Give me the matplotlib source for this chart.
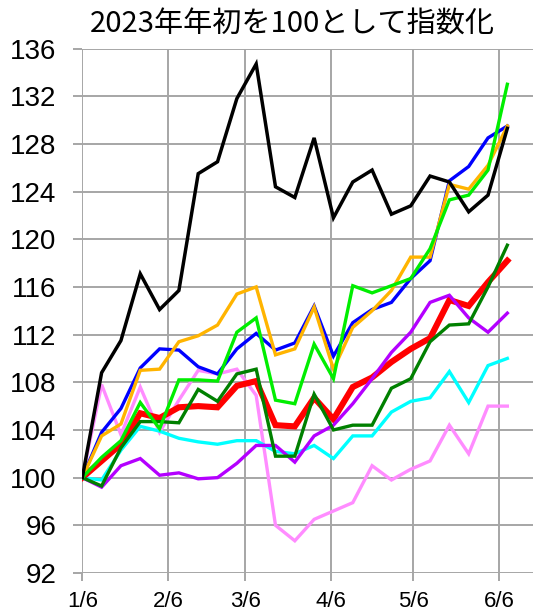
"""Weekly index chart (2023 start = 100), ten series, Jan 6 - Jun 9 2023."""

import matplotlib
matplotlib.use("Agg")
import matplotlib.pyplot as plt
import pandas as pd

TITLE = "2023年年初を100として指数化"

DATES = ["2023-01-06", "2023-01-13", "2023-01-20", "2023-01-27", "2023-02-03",
         "2023-02-10", "2023-02-17", "2023-02-24", "2023-03-03", "2023-03-10",
         "2023-03-17", "2023-03-24", "2023-03-31", "2023-04-07", "2023-04-14",
         "2023-04-21", "2023-04-28", "2023-05-05", "2023-05-12", "2023-05-19",
         "2023-05-26", "2023-06-02", "2023-06-09"]

BLACK = [100.0, 108.8, 111.5, 117.1, 114.1, 115.7, 125.5, 126.5, 131.8, 134.7,
         124.4, 123.5, 128.5, 121.8, 124.8, 125.8, 122.1, 122.8, 125.3, 124.8,
         122.3, 123.7, 129.3]
BLUE = [100.0, 103.8, 105.8, 109.2, 110.8, 110.7, 109.3, 108.7, 110.8, 112.1,
        110.7, 111.3, 114.4, 110.2, 113.0, 114.1, 114.7, 116.7, 118.2, 124.9,
        126.1, 128.5, 129.5]
ORANGE = [100.0, 103.5, 104.5, 109.0, 109.1, 111.4, 111.9, 112.8, 115.4, 116.0,
          110.3, 110.8, 114.3, 109.1, 112.6, 114.0, 115.7, 118.5, 118.5, 124.6,
          124.2, 126.2, 129.5]
LIME = [100.0, 101.7, 103.1, 106.3, 104.1, 108.2, 108.2, 108.1, 112.2, 113.4,
        106.5, 106.2, 111.2, 108.3, 116.1, 115.5, 116.1, 116.7, 119.2, 123.3,
        123.7, 125.8, 133.0]
RED = [100.0, 101.4, 102.8, 105.4, 105.0, 105.9, 106.0, 105.9, 107.7, 108.1,
       104.4, 104.3, 106.7, 104.9, 107.6, 108.4, 109.7, 110.8, 111.7, 114.9,
       114.4, 116.4, 118.2]
DARKGREEN = [100.0, 99.3, 102.5, 104.7, 104.7, 104.6, 107.4, 106.4, 108.7, 109.1,
             101.8, 101.8, 107.0, 104.0, 104.4, 104.4, 107.5, 108.3, 111.4, 112.8,
             112.9, 116.0, 119.5]
PURPLE = [100.0, 99.2, 101.0, 101.6, 100.2, 100.4, 99.9, 100.0, 101.2, 102.7,
          102.7, 101.3, 103.5, 104.4, 106.2, 108.3, 110.5, 112.2, 114.7, 115.3,
          113.4, 112.2, 113.8]
CYAN = [100.0, 99.8, 102.3, 104.3, 103.9, 103.3, 103.0, 102.8, 103.1, 103.1,
        102.2, 102.0, 102.7, 101.6, 103.5, 103.5, 105.5, 106.4, 106.7, 108.9,
        106.3, 109.4, 110.0]
PINK = [100.0, 107.8, 103.6, 107.6, 103.8, 106.5, 109.0, 108.7, 109.1, 106.9,
        96.0, 94.7, 96.5, 97.2, 97.9, 101.0, 99.8, 100.7, 101.4, 104.4,
        102.0, 106.0, 106.0]

TICK_DATES = ["2023-01-06", "2023-02-06", "2023-03-06", "2023-04-06", "2023-05-06", "2023-06-06"]
TICK_LABELS = ["1/6", "2/6", "3/6", "4/6", "5/6", "6/6"]
Y_TICKS = list(range(92, 137, 4))

GRID = "#a6a6a6"

# drawing order bottom -> top
SERIES = [
    (PINK, "#ff8cff", 2.4),
    (CYAN, "#00ffff", 2.4),
    (RED, "#ff0000", 4.4),
    (PURPLE, "#b400ff", 2.4),
    (DARKGREEN, "#008000", 2.4),
    (BLUE, "#0000ff", 2.4),
    (ORANGE, "#ffb400", 2.4),
    (LIME, "#00ee00", 2.4),
    (BLACK, "#000000", 2.5),
]


def main() -> int:
    dates = pd.to_datetime(DATES)
    fig = plt.figure(figsize=(5.33, 6.14), dpi=100)
    ax = fig.add_axes([0.1544, 0.0668, 0.8456, 0.8542])

    for vals, color, lw in SERIES:
        ax.plot(dates, vals, color=color, linewidth=lw, solid_joinstyle="miter", zorder=3)

    x0 = pd.Timestamp("2023-01-06")
    ax.set_xlim(x0, x0 + pd.Timedelta(days=163.3))
    ax.set_ylim(92, 136)
    ax.set_yticks(Y_TICKS)
    ax.set_yticklabels([str(v) for v in Y_TICKS], fontfamily="Liberation Sans", fontsize=20)
    ax.set_xticks(pd.to_datetime(TICK_DATES))
    ax.set_xticklabels(TICK_LABELS, fontfamily="Liberation Sans", fontsize=16)

    ax.grid(True, color=GRID, linewidth=1.4, zorder=0)
    ax.set_axisbelow(True)
    for s in ax.spines.values():
        s.set_visible(False)
    ax.tick_params(axis="y", length=6.5, width=1.4, color=GRID, pad=12)
    ax.tick_params(axis="x", length=6, width=1.4, color=GRID, pad=7)

    fig.text(0.548, 0.960, TITLE, ha="center", va="center", fontsize=21,
             fontfamily=["Noto Sans CJK JP", "DejaVu Sans"])

    fig.savefig("out.png", dpi=100)
    return 0


if __name__ == "__main__":
    raise SystemExit(main())
